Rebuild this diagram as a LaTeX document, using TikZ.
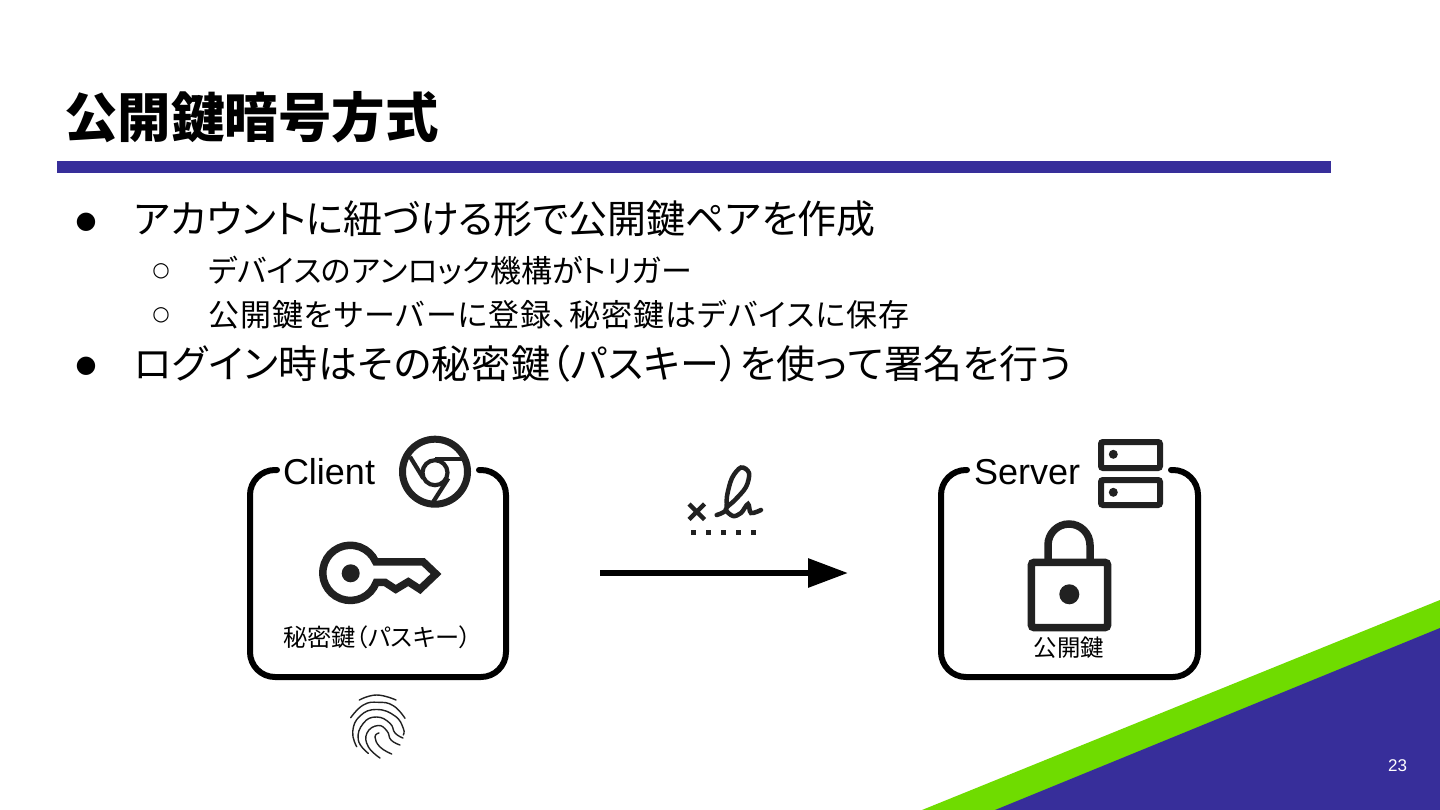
\documentclass[tikz,border=0pt]{standalone}
\usepackage{fontspec}
\usetikzlibrary{arrows.meta}
\setmainfont{Liberation Sans}
\newfontfamily\jp[RawFeature={+palt;-kern}]{Noto Sans CJK JP}
\newfontfamily\sym{DejaVu Sans}
\definecolor{brandblue}{HTML}{372E9A}
\definecolor{brandgreen}{HTML}{6FDC00}
\definecolor{ink}{HTML}{000000}
\definecolor{icon}{HTML}{212121}
\newcommand{\fs}[1]{\fontsize{#1}{#1}\selectfont}
\newcommand{\spaced}[1]{\addfontfeatures{LetterSpace=#1}}
\tikzset{
  txt/.style={inner sep=0pt,outer sep=0pt,anchor=west,text=ink},
  titletxt/.style={txt,font=\jp\bfseries\fs{53.5}},
  mainitem/.style={txt,font=\jp\fs{39}},
  subitem/.style={txt,font=\jp\fs{31}},
  bigdot/.style={txt,anchor=center,font=\sym\fs{24}},
  smalldot/.style={txt,anchor=center,font=\sym\fs{20}},
  boxline/.style={line width=6pt,ink,rounded corners=25pt,line cap=round},
  boxlabel/.style={txt,font=\fs{36}},
  iconline/.style={line width=7.5pt,icon},
  chromeline/.style={line width=4.2pt,icon},
  printline/.style={line width=1.4pt,icon,line cap=round,smooth},
  caption/.style={txt,anchor=center,font=\jp\fs{#1}}
}
\begin{document}
\begin{tikzpicture}[x=1pt,y=-1pt]
\useasboundingbox (0,0) rectangle (1440,810);
\fill[white] (0,0) rectangle (1440,810);
\fill[brandgreen] (1440,600) -- (922,810) -- (1440,810) -- cycle;
\fill[brandblue] (1440,628) -- (995,810) -- (1440,810) -- cycle;
\node[txt,anchor=center,text=white,font=\fs{17}] (pageno) at (1397.5,766) {23};
\node[titletxt] (title) at (64,117) {公開鍵暗号方式};
\fill[brandblue] (57,161) rectangle (1331,173);
\node[bigdot] (b1) at (86,222) {●};
\node[mainitem] (t1) at (134,219) {アカウントに紐づける形で公開鍵ペアを作成};
\node[smalldot] (b2) at (161,271.5) {○};
\node[subitem] (t2) at (208,270.5) {デバイスのアンロック機構がトリガー};
\node[smalldot] (b3) at (161,315.5) {○};
\node[subitem] (t3) at (208,314.5) {\spaced{3.5}公開鍵をサーバーに登録、秘密鍵はデバイスに保存};
\node[bigdot] (b4) at (86,366) {●};
\node[mainitem] (t4) at (134,364) {\spaced{1.5}ログイン時はその秘密鍵（パスキー）を使って署名を行う};
\draw[boxline] (277,470) -- (250,470) -- (250,677) -- (506,677) -- (506,470) -- (479,470);
\node[boxlabel] (client) at (283,472) {Client};
\draw[icon,line width=7pt] (435,471.7) circle[radius=32.5];
\draw[chromeline] (435,472.7) circle[radius=12.5];
\draw[chromeline] (410,456.7) -- (423.3,478.3);
\draw[chromeline] (435,459.3) -- (462,459.3);
\draw[chromeline] (448.3,478.3) -- (433.3,501.7);
\draw[iconline,line join=miter] (376.3,582.3) arc[start angle=20,end angle=336.5,radius=27.6] -- (423.3,561.9) -- (436,574) -- (420,589.3) -- (408.3,581.7) -- (395.7,589.3) -- (385,582.3) -- cycle;
\fill[icon] (350.7,573.3) circle[radius=9];
\node[caption=24.2] (kcap) at (377.5,637) {秘密鍵（パスキー）};
\def\fp#1{\draw[printline] plot[smooth,tension=0.8] coordinates {#1};}
\fp{(359.3,700) (376.7,695) (396,700)}
\fp{(350.7,717.7) (363.3,705) (378.3,702.3) (393.3,705.7) (405,718.3)}
\fp{(356.7,746.7) (352.7,731.7) (360,716) (376.7,709.5) (395,716) (403.3,728.3) (403.3,735)}
\fp{(368.3,753.3) (358.3,740) (363.3,723.3) (376.7,717) (390,723.3) (395,733) (403,738)}
\fp{(380,758) (368.3,746.7) (367,733) (378,725.5) (387,731) (391,740) (400,745)}
\fp{(391.7,754) (380,747) (375,737) (379,733)}
\coordinate (as) at (600,573);
\coordinate (ae) at (848,573);
\draw[line width=6pt,ink,-{Triangle[length=40pt,width=28pt]}] (as) -- (ae);
\draw[icon,line width=4.5pt] (689,504) -- (704.5,519.5) (704.5,504) -- (689,519.5);
\foreach \dx in {693.3,708.3,723.3,738.3,753.3} \fill[icon] (\dx-2.5,530.2) rectangle (\dx+2.5,535.2);
\draw[icon,line width=4.5pt,line cap=round] plot[smooth,tension=0.55] coordinates {(716.7,515) (726,510) (727,496) (732,478) (741,467.5) (749,473) (746,487) (735,500) (726,509) (733,516) (741,513) (748,504) (751,513) (761,510)};
\draw[boxline] (967,470) -- (941,470) -- (941,677) -- (1198,677) -- (1198,470) -- (1171,470);
\node[boxlabel] (server) at (974,472) {Server};
\draw[icon,line width=6pt,rounded corners=2pt] (1101,442) rectangle (1160,468);
\draw[icon,line width=6pt,rounded corners=2pt] (1101,480) rectangle (1160,505);
\fill[icon] (1113.3,454.3) circle[radius=4.5];
\fill[icon] (1113.3,492.3) circle[radius=4.5];
\draw[iconline] (1048,560) -- (1048,545) arc[start angle=180,end angle=360,radius=21] -- (1090,560);
\draw[iconline,rounded corners=3pt] (1031.3,562.3) rectangle (1107.7,627.7);
\fill[icon] (1069.3,594.3) circle[radius=10];
\node[caption=23.4] (lcap) at (1069,648) {公開鍵};
\end{tikzpicture}
\end{document}
